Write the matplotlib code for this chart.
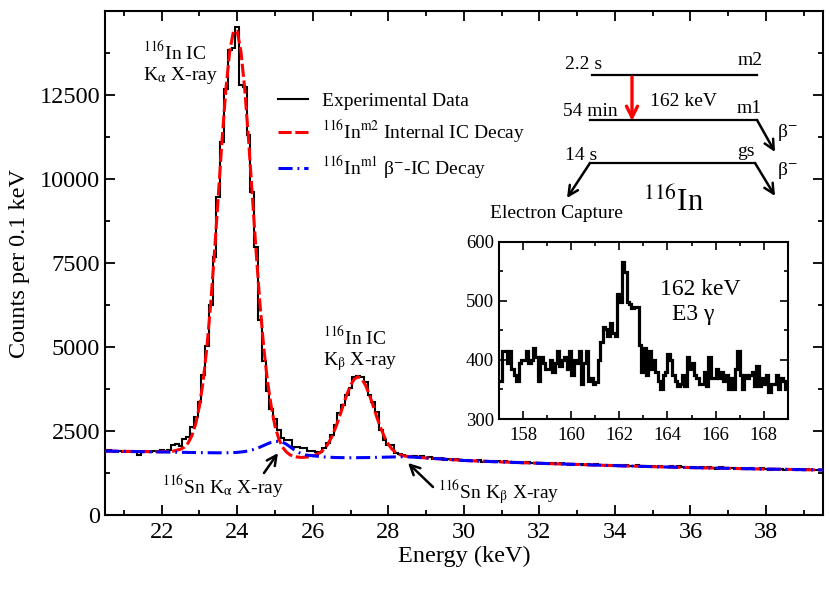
import numpy as np
import matplotlib
matplotlib.use('Agg')
import matplotlib.pyplot as plt
from matplotlib.ticker import MultipleLocator

plt.rcParams['font.family'] = ['Liberation Serif', 'DejaVu Serif']
plt.rcParams['mathtext.fontset'] = 'stix'

# main spectrum, counts per 0.1 keV bin, bin centres 20.5 ... 39.5 keV
energy = np.round(np.arange(20.5, 39.55, 0.1), 1)
counts = [
    1915, 1930, 1900, 1890, 1910, 1880, 1895, 1870, 1900, 1785,
    1890, 1905, 1880, 1910, 1920, 1930, 1920, 1950, 2100, 2120, 2050,
    2250, 2330, 2630, 2925,
    3370, 4170, 5030, 6250, 7690, 9470, 11110, 12680, 13860, 13900,
    14530, 12800, 12750, 11330, 9620, 7990, 5800, 4600, 3700, 3150,
    2850, 2530, 2300, 2240, 2230, 2040, 2020, 1990, 1990, 1910,
    1900, 1870, 1870, 1990, 2140, 2380, 2680, 3030, 3280, 3580,
    3770, 4120, 4140, 4100, 3970, 3580, 3380, 3080, 2530, 2240,
    2090, 2080, 1840, 1830, 1790,
    1770, 1750, 1760, 1735, 1745,
    1700, 1720, 1660, 1690, 1705, 1650, 1670, 1640, 1660, 1630,
    1620, 1635, 1600, 1615, 1625, 1590, 1610, 1580, 1605, 1595,
    1585, 1600, 1570, 1560, 1590, 1575, 1545, 1580, 1560, 1550,
    1545, 1560, 1525, 1550, 1535, 1515, 1540, 1530, 1500, 1525,
    1510, 1520, 1495, 1505, 1480, 1515, 1490, 1500, 1470, 1495,
    1475, 1490, 1460, 1480, 1465, 1450, 1475, 1455, 1470, 1445,
    1450, 1435, 1460, 1440, 1425, 1450, 1430, 1445, 1415, 1435,
    1420, 1440, 1405, 1425, 1395, 1420, 1410, 1385, 1415, 1400,
    1395, 1410, 1380, 1400, 1385, 1365, 1395, 1380, 1370, 1390,
    1375, 1355, 1380, 1365, 1370, 1350, 1375, 1360, 1345, 1365,
    1350, 1360, 1340, 1355, 1335, 1345,
]

# 116In m2 internal IC decay fit (red)
red_E = [20.5, 21.0, 21.5, 22.0, 22.3, 22.5, 22.6, 22.7, 22.8, 22.9,
         23.0, 23.1, 23.2, 23.3, 23.4, 23.5, 23.6, 23.7, 23.8, 23.9,
         24.0, 24.1, 24.2, 24.3, 24.4, 24.5, 24.6, 24.7, 24.8, 24.9,
         25.0, 25.1, 25.2, 25.3, 25.4, 25.5, 25.6, 25.7, 25.8, 25.9,
         26.0, 26.1, 26.2, 26.3, 26.4, 26.5, 26.6, 26.7, 26.8, 26.9,
         27.0, 27.1, 27.2, 27.3, 27.4, 27.5, 27.6, 27.7, 27.8, 27.9,
         28.0, 28.1, 28.2, 28.3, 28.4, 28.5, 29.0, 30.0, 31.0, 32.0,
         33.0, 34.0, 35.0, 36.0, 37.0, 38.0, 39.0, 39.5]
red_fit = [1905, 1895, 1890, 1885, 1900, 1960, 2020, 2145, 2360, 2710,
           3240, 4000, 5020, 6320, 7850, 9520, 11190, 12680, 13800, 14410,
           14410, 13800, 12680, 11190, 9520, 7850, 6320, 5020, 4000, 3240,
           2650, 2270, 2020, 1880, 1790, 1745, 1725, 1715, 1720, 1735,
           1760, 1800, 1860, 1960, 2110, 2320, 2590, 2900, 3250, 3580,
           3860, 4050, 4120, 4050, 3860, 3580, 3250, 2900, 2590, 2320,
           2110, 1960, 1860, 1800, 1765, 1745, 1700, 1625, 1580, 1540,
           1505, 1470, 1440, 1412, 1390, 1368, 1350, 1342]

# 116In m1 beta-IC decay (blue)
blue_E = [20.5, 21.0, 21.5, 22.0, 22.5, 23.0, 23.5, 23.8, 24.0, 24.2,
          24.4, 24.6, 24.8, 24.9, 25.0, 25.1, 25.2, 25.3, 25.4, 25.5,
          25.6, 25.7, 25.8, 26.0, 26.3, 26.6, 27.0, 27.5, 28.0, 28.3,
          28.6, 29.0, 30.0, 31.0, 32.0, 33.0, 34.0, 35.0, 36.0, 37.0,
          38.0, 39.0, 39.5]
blue_fit = [1905, 1895, 1885, 1878, 1868, 1858, 1852, 1855, 1865, 1890,
            1940, 2020, 2120, 2165, 2190, 2195, 2170, 2110, 2030, 1950,
            1880, 1825, 1790, 1765, 1730, 1712, 1705, 1712, 1725, 1735,
            1728, 1700, 1625, 1580, 1540, 1505, 1470, 1440, 1412, 1390,
            1368, 1350, 1342]

# inset: 162 keV E3 gamma region, 0.1 keV bins from 157 keV
inset_edges = np.round(np.arange(157.0, 169.05, 0.1), 1)
inset_counts = [
    365, 415, 415, 395, 415, 385, 375, 365, 395, 400,
    400, 415, 395, 400, 420, 405, 365, 405, 395, 385,
    385, 400, 380, 395, 415, 390, 400, 405, 385, 415,
    375, 400, 395, 415, 360, 395, 415, 365, 370, 360,
    362, 400, 430, 455, 452, 440, 462, 445, 440, 512,
    498, 565, 548, 497, 495, 487, 490, 490, 425, 380,
    420, 375, 415, 385, 400, 380, 365, 350, 375, 380,
    410, 400, 375, 365, 355, 360, 375, 355, 405, 385,
    395, 375, 370, 360, 360, 380, 355, 405, 370, 370,
    385, 370, 380, 365, 375, 350, 370, 350, 385, 415,
    375, 350, 375, 370, 375, 380, 355, 390, 355, 370,
    360, 375, 345, 360, 360, 375, 350, 370, 365, 350,
]

fig = plt.figure(figsize=(8.3, 5.94), dpi=100)
ax = fig.add_axes([0.1265, 0.133, 0.8647, 0.8477])

edges = np.round(np.append(energy - 0.05, energy[-1] + 0.05), 2)
ax.stairs(counts, edges, baseline=None, color='k', lw=1.5, zorder=2,
          label='Experimental Data')
ax.plot(red_E, red_fit, color='#ff0000', lw=2.2, ls=(0, (4.3, 1.2)), zorder=3,
        label=r'$^{116}$In$^{\mathrm{m2}}$ Internal IC Decay')
ax.plot(blue_E, blue_fit, color='#0000ff', lw=2.2, ls=(0, (4.6, 1.6, 0.6, 1.6)), zorder=4,
        label=r'$^{116}$In$^{\mathrm{m1}}$ β$^{-}$-IC Decay')

ax.set_xlim(20.5, 39.5)
ax.set_ylim(0, 15000)
ax.set_xticks(np.arange(22, 39, 2))
ax.set_yticks(np.arange(0, 12501, 2500))
ax.xaxis.set_minor_locator(MultipleLocator(1))
ax.yaxis.set_minor_locator(MultipleLocator(1250))
ax.tick_params(which='both', direction='in', top=True, right=True, width=1.3)
ax.tick_params(which='major', length=7, labelsize=17.5)
ax.tick_params(which='minor', length=3.5)
ax.tick_params(axis='x', pad=5)
ax.tick_params(axis='y', pad=3.5)
for s in ax.spines.values():
    s.set_linewidth(1.5)
ax.set_xlabel('Energy (keV)', fontsize=17.5)
ax.set_ylabel('Counts per 0.1 keV', fontsize=17.5)
ax.xaxis.set_label_coords(0.5, -0.062)
ax.yaxis.set_label_coords(-0.105, 0.5)

leg = ax.legend(loc='upper left', bbox_to_anchor=(278 / 830, 1 - 92 / 594),
                bbox_transform=fig.transFigure, frameon=False, fontsize=14,
                handlelength=1.55, handletextpad=0.7, labelspacing=0.48,
                borderpad=0, borderaxespad=0)

# inset
axi = fig.add_axes([0.6018, 0.2946, 0.347, 0.2988])
axi.stairs(inset_counts, inset_edges, baseline=None, color='k', lw=2.3)
axi.set_xlim(157, 169)
axi.set_ylim(300, 600)
axi.set_xticks(np.arange(158, 169, 2))
axi.set_yticks([300, 400, 500, 600])
axi.xaxis.set_minor_locator(MultipleLocator(1))
axi.yaxis.set_minor_locator(MultipleLocator(50))
axi.tick_params(which='both', direction='in', top=True, right=True, width=1.2)
axi.tick_params(which='major', length=6, labelsize=13.5)
axi.tick_params(which='minor', length=3)
axi.tick_params(axis='x', pad=6)
axi.tick_params(axis='y', pad=4)
for s in axi.spines.values():
    s.set_linewidth(1.5)

# overlay in figure pixels for annotations and the level scheme
ov = fig.add_axes([0, 0, 1, 1], zorder=5)
ov.set_xlim(0, 830)
ov.set_ylim(594, 0)
ov.axis('off')
ov.patch.set_alpha(0)

fs = 14
ov.text(143, 60, r'$^{116}$In IC', fontsize=fs)
ov.text(143, 80, r'K$_{\mathrm{α}}$ X-ray', fontsize=fs)
ov.text(323, 345, r'$^{116}$In IC', fontsize=fs)
ov.text(323, 365, r'K$_{\mathrm{β}}$ X-ray', fontsize=fs)
ov.text(162, 494, r'$^{116}$Sn K$_{\mathrm{α}}$ X-ray', fontsize=fs)
ov.text(438, 499, r'$^{116}$Sn K$_{\mathrm{β}}$ X-ray', fontsize=fs)
arw = dict(arrowstyle='->,head_length=0.7,head_width=0.35', lw=1.8, color='k',
           shrinkA=0, shrinkB=0)
ov.annotate('', xy=(278, 453), xytext=(264, 473), arrowprops=arw)
ov.annotate('', xy=(408, 463), xytext=(433, 487), arrowprops=arw)

ov.text(660, 295, '162 keV', fontsize=17)
ov.text(672, 320, 'E3 γ', fontsize=17)

# level scheme
for y0, x0, x1 in [(75, 592, 757), (120, 590, 757), (163, 590, 755)]:
    ov.plot([x0, x1], [y0, y0], color='k', lw=1.6)
ov.annotate('', xy=(632, 121), xytext=(632, 77),
            arrowprops=dict(arrowstyle='->,head_length=0.8,head_width=0.4', lw=2.4,
                            color='#ff0000', shrinkA=0, shrinkB=0))
ov.annotate('', xy=(775, 152), xytext=(757, 120), arrowprops=arw)
ov.annotate('', xy=(775, 196), xytext=(755, 163), arrowprops=arw)
ov.annotate('', xy=(567, 198), xytext=(590, 163), arrowprops=arw)
ov.text(565, 69, '2.2 s', fontsize=fs)
ov.text(738, 65, 'm2', fontsize=fs)
ov.text(563, 116, '54 min', fontsize=fs)
ov.text(650, 106, '162 keV', fontsize=fs)
ov.text(737, 113, 'm1', fontsize=fs)
ov.text(777, 137, r'β$^{-}$', fontsize=fs)
ov.text(565, 160, '14 s', fontsize=fs)
ov.text(737, 156, 'gs', fontsize=fs)
ov.text(777, 175, r'β$^{-}$', fontsize=fs)
ov.text(490, 218, 'Electron Capture', fontsize=fs)
ov.text(643, 211, r'$^{116}$In', fontsize=22)

fig.savefig('out.png', dpi=100)
